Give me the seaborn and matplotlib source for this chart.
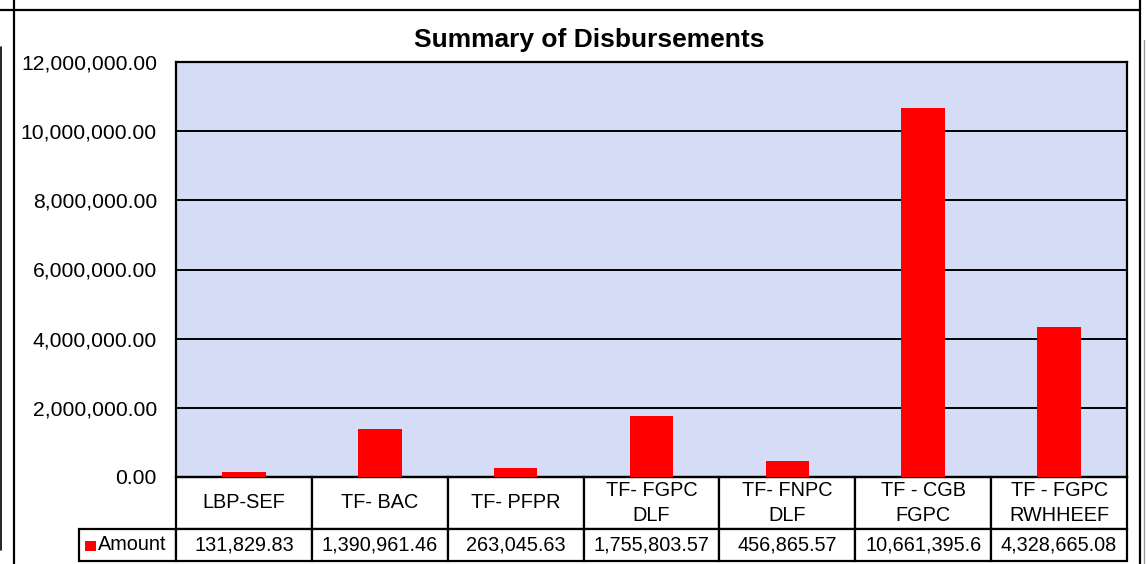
import matplotlib
matplotlib.use("Agg")
import matplotlib.pyplot as plt
import seaborn as sns
import pandas as pd
from matplotlib.table import Table
from matplotlib.lines import Line2D
from matplotlib.patches import Rectangle
from matplotlib.ticker import FuncFormatter

# data
categories = ["LBP-SEF", "TF- BAC", "TF- PFPR", "TF- FGPC\nDLF", "TF- FNPC\nDLF",
              "TF - CGB\nFGPC", "TF - FGPC\nRWHHEEF"]
amounts = [131829.83, 1390961.46, 263045.63, 1755803.57, 456865.57, 10661395.6, 4328665.08]
amount_labels = ["131,829.83", "1,390,961.46", "263,045.63", "1,755,803.57",
                 "456,865.57", "10,661,395.6", "4,328,665.08"]
series_name = "Amount"
y_ticks = [0, 2e6, 4e6, 6e6, 8e6, 10e6, 12e6]

W, H = 1147, 564

sns.set_style("white")
plt.rcParams["font.family"] = ["Liberation Sans", "DejaVu Sans"]
plt.rcParams["text.color"] = "black"

fig = plt.figure(figsize=(W / 100, H / 100), dpi=100)
fig.patch.set_facecolor("white")

# plot area in pixels: left 176, right 1127, top 62, bottom 477
plot_w = 1127 - 176
plot_h = 477 - 62
ax = fig.add_axes([176 / W, 1 - 477 / H, plot_w / W, plot_h / H])
ax.set_facecolor("#d5dcf5")

df = pd.DataFrame({"category": categories, "amount": amounts})
sns.barplot(data=df, x="category", y="amount", color="#ff0000", saturation=1,
            width=0.32, linewidth=0, ax=ax, zorder=3)

ax.set_ylim(0, 12e6)
ax.set_yticks(y_ticks)
ax.yaxis.set_major_formatter(FuncFormatter(lambda v, p: f"{v:,.2f}"))
ax.tick_params(axis="y", length=0, pad=13.7, labelsize=15.2, colors="black")
ax.tick_params(axis="x", length=0, labelbottom=False)
ax.set_xlabel("")
ax.set_ylabel("")
ax.yaxis.grid(True, color="black", linewidth=1.4, zorder=1)
ax.set_axisbelow(True)
for s in ax.spines.values():
    s.set_visible(True)
    s.set_color("black")
    s.set_linewidth(1.6)

fig.text(589 / W, 1 - 40 / H, "Summary of Disbursements", fontsize=19,
         fontweight="bold", ha="center", va="center", color="black")

# data table under the plot (Excel style), sizes in axes units
col_w = 1 / len(categories)
lab_w = 97 / plot_w
head_h = 52 / plot_h
row_h = 32 / plot_h
tb = Table(ax, loc="bottom")
for i, cat in enumerate(categories):
    tb.add_cell(0, i, width=col_w, height=head_h, text=cat, loc="center", facecolor="white")
    tb.add_cell(1, i, width=col_w, height=row_h, text=amount_labels[i], loc="center",
                facecolor="white")
tb.add_cell(1, -1, width=lab_w, height=row_h, text=series_name, loc="right", facecolor="white")
tb.auto_set_font_size(False)
tb.set_fontsize(14.3)
for (r, c), cell in tb.get_celld().items():
    cell.set_linewidth(1.6)
    cell.set_edgecolor("black")
    cell.get_text().set_color("black")
    if r == 0:
        cell.get_text().set_linespacing(1.35)
ax.add_table(tb)

# legend key in the table
ax.add_patch(Rectangle(((85 - 176) / plot_w, -(551 - 477) / plot_h), 11 / plot_w, 10 / plot_h,
                       transform=ax.transAxes, facecolor="#ff0000", edgecolor="none",
                       clip_on=False, zorder=15))


def fig_line(x0, y0, x1, y1, lw=1.6, color="black"):
    fig.add_artist(Line2D([x0 / W, x1 / W], [1 - y0 / H, 1 - y1 / H], color=color,
                          linewidth=lw, transform=fig.transFigure))


# surrounding sheet borders
fig_line(0, 10, 1140, 10)
fig_line(14, 0, 14, H)
fig_line(1, 47, 1, 550, lw=1.2)
fig_line(1140, 0, 1140, H)
fig_line(1144, 40, 1144, H, lw=1.0, color="#999999")

fig.savefig("out.png", dpi=100)
